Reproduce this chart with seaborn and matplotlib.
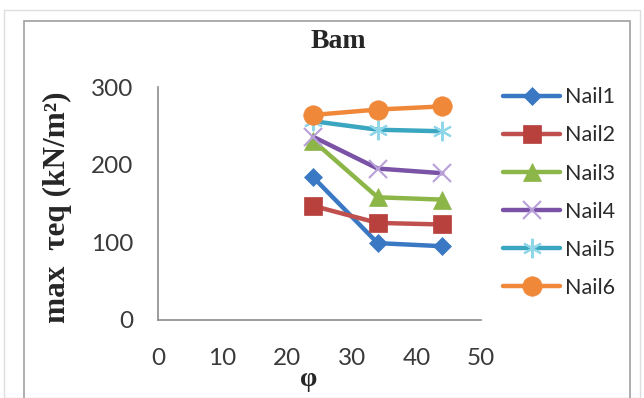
import matplotlib
matplotlib.use("Agg")
import matplotlib.pyplot as plt
import matplotlib.patches as mpatches
import seaborn as sns
import pandas as pd

phi = [24, 34, 44]
nails = ["Nail1", "Nail2", "Nail3", "Nail4", "Nail5", "Nail6"]
nail1 = [184, 99, 95]
nail2 = [147, 125, 123]
nail3 = [231, 158, 155]
nail4 = [236, 195, 189]
nail5 = [256, 245, 243]
nail6 = [264, 271, 275]
values = [nail1, nail2, nail3, nail4, nail5, nail6]

colors = ["#3A78C4", "#C0504D", "#8DB649", "#7A52A6", "#3AA6C0", "#F0883A"]
mcolors = ["#3A78C4", "#B8403D", "#8DB649", "#B8A0D8", "#8ED6E8", "#F0883A"]
markers = ["D", "s", "^", "x", (6, 2, 0), "o"]
msizes = [9, 13.5, 13, 13, 14, 14]

rows = []
for n, v in zip(nails, values):
    for x, y in zip(phi, v):
        rows.append({"phi": x, "tau": y, "nail": n})
df = pd.DataFrame(rows)

sns.set_style("white")
fig = plt.figure(figsize=(6.44, 3.98), dpi=100)
ax = fig.add_axes([158/644, 1-320/398, (481-158)/644, (320-87)/398])

for i, n in enumerate(nails):
    sub = df[df["nail"] == n]
    sns.lineplot(data=sub, x="phi", y="tau", ax=ax, color=colors[i], lw=3.2,
                 marker=markers[i], markersize=msizes[i],
                 markerfacecolor=mcolors[i], markeredgecolor=mcolors[i],
                 markeredgewidth=1.5 if i in (3, 4) else 0.5, label=n)

ax.set_xlim(0, 50)
ax.set_ylim(0, 300)
ax.set_xticks([0, 10, 20, 30, 40, 50])
ax.set_yticks([0, 100, 200, 300])
for s in ["top", "right"]:
    ax.spines[s].set_visible(False)
for s in ["left", "bottom"]:
    ax.spines[s].set_color("#8c8c8c")
    ax.spines[s].set_linewidth(1.2)
ax.tick_params(axis="both", direction="out", length=7, width=1.2, color="#8c8c8c",
               labelsize=17.5, labelcolor="#3a3a3a")
ax.tick_params(axis="x", pad=13)
ax.tick_params(axis="y", pad=10.5)
for lab in ax.get_xticklabels() + ax.get_yticklabels():
    lab.set_family("Lato")

ax.set_xlabel("")
ax.set_ylabel("max  τeq (kN/m²)", family="Liberation Serif", fontweight="bold",
              fontsize=22.5)
ax.yaxis.label.set_va("center")
ax.yaxis.set_label_coords((57-158)/323, (320-207)/233)
fig.text(309/644, 1-380/398, "φ", family="Liberation Serif", fontweight="bold",
         fontsize=20, ha="center", va="center")
fig.text(338/644, 1-41/398, "Bam", family="Liberation Serif", fontweight="bold",
         fontsize=20, ha="center", va="center")

leg = ax.legend(loc="upper left", bbox_to_anchor=((484-158)/323, 1-(68-87)/233),
                frameon=False, handlelength=2.65, handletextpad=0.22,
                labelspacing=0.84, prop={"family": "Lato", "size": 15.5})
for t in leg.get_texts():
    t.set_color("#2a2a2a")

# frames
fig.patches.append(mpatches.Rectangle((4/644, 0), 636/644, 1-10/398, transform=fig.transFigure,
                                      fill=False, ec="#dddddd", lw=1.0))
fig.patches.append(mpatches.Rectangle((24/644, -0.05), 606/644, 1-21/398+0.05, transform=fig.transFigure,
                                      fill=False, ec="#a0a0a0", lw=1.2))

fig.savefig("out.png", dpi=100)
